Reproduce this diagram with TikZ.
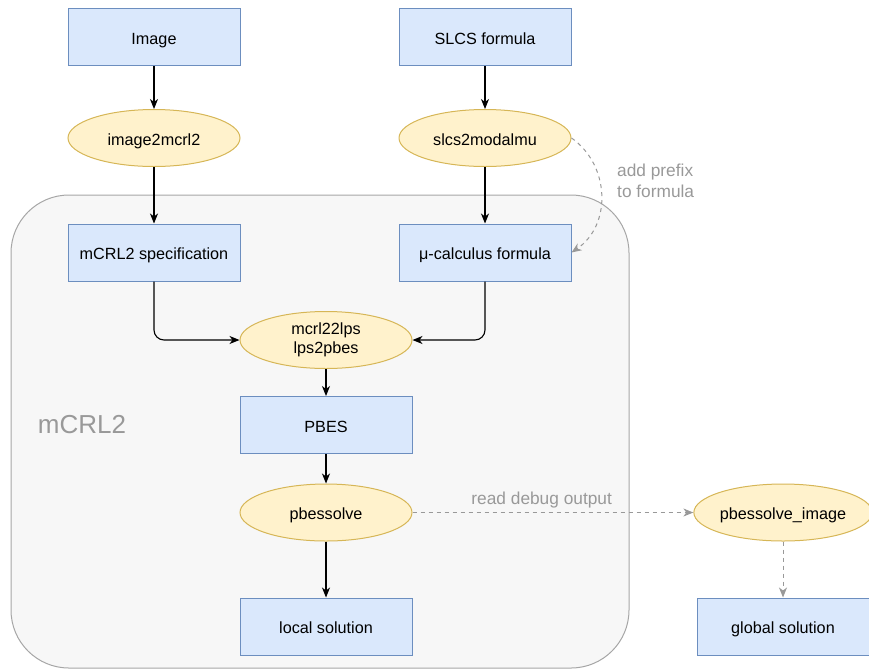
\documentclass[tikz,border=0pt]{standalone}
\usepackage{fontspec}
\setmainfont{Liberation Sans}
\usetikzlibrary{arrows.meta,shapes.geometric}
\definecolor{bfill}{HTML}{DAE8FC}
\definecolor{bdraw}{HTML}{6C8EBF}
\definecolor{yfill}{HTML}{FFF2CC}
\definecolor{ydraw}{HTML}{D6B656}
\definecolor{cfill}{HTML}{F7F7F7}
\definecolor{cdraw}{HTML}{A6A6A6}
\definecolor{gtext}{HTML}{999999}
\tikzset{
  x=1pt, y=-1pt,
  basenode/.style={line width=1pt, minimum width=172pt, minimum height=57pt, inner sep=0pt, font=\fontsize{16.2}{19}\selectfont, text height=14pt, text depth=0pt},
  boxnode/.style={basenode, draw=bdraw, fill=bfill},
  ellnode/.style={basenode, ellipse, draw=ydraw, fill=yfill},
  conn/.style={line width=1.1pt, -{Stealth[length=10pt,width=8pt,inset=3pt]}},
  dconn/.style={line width=1pt, draw=gtext, dashed, dash pattern=on 4pt off 4pt, -{Stealth[length=10pt,width=8pt,inset=3pt]}},
  glabel/.style={text=gtext, font=\fontsize{17.3}{20.5}\selectfont, align=left, inner sep=1pt}
}
\begin{document}
\begin{tikzpicture}
\useasboundingbox (0,0) rectangle (869,670);
\node[draw=cdraw, fill=cfill, line width=1pt, rounded corners=58pt, minimum width=618pt, minimum height=473pt, inner sep=0pt] (cont) at (320,431.5) {};
\node[text=gtext, font=\fontsize{26}{30}\selectfont] (lbl) at (82,425) {mCRL2};

\node[boxnode] (img) at (154,37) {Image};
\node[boxnode] (slcs) at (485,37) {SLCS formula};
\node[ellnode] (i2m) at (154,138) {image2mcrl2};
\node[ellnode] (s2m) at (485,138) {slcs2modalmu};
\node[boxnode] (spec) at (154,252.5) {mCRL2 specification};
\node[boxnode] (mu) at (485,252.5) {μ-calculus formula};
\node[basenode, ellipse, draw=ydraw, fill=yfill, align=center, text height=, text depth=] (lps) at (326,340) {mcrl22lps\\lps2pbes};
\node[boxnode] (pbes) at (326,425) {PBES};
\node[ellnode] (solve) at (326,512.5) {pbessolve};
\node[boxnode] (local) at (326,626.5) {local solution};
\node[ellnode] (simg) at (783,512.5) {pbessolve\_image};
\node[boxnode] (glob) at (783,626.5) {global solution};

\draw[conn] (img) -- (i2m);
\draw[conn] (slcs) -- (s2m);
\draw[conn] (i2m) -- (spec);
\draw[conn] (s2m) -- (mu);
\draw[conn, rounded corners=10pt] (spec.south) |- (lps.west);
\draw[conn, rounded corners=10pt] (mu.south) |- (lps.east);
\draw[conn] (lps) -- (pbes);
\draw[conn] (pbes) -- (solve);
\draw[conn] (solve) -- (local);

\draw[dconn] (s2m.east) .. controls (610,165) and (612,225) .. (mu.east);
\node[glabel, anchor=west] (apf) at (616,181) {add prefix\\to formula};
\draw[dconn] (solve.east) -- (simg.west) node[pos=0.46, above=3pt, glabel] (rdo) {read debug output};
\draw[dconn] (simg) -- (glob);
\end{tikzpicture}
\end{document}
